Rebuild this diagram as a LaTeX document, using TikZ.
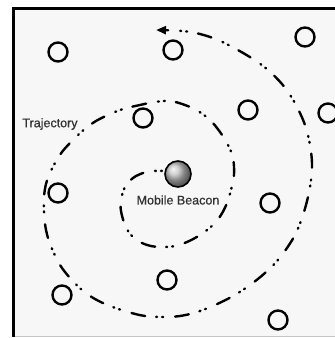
\documentclass[tikz,border=0pt]{standalone}
\usepackage{fontspec}
\setmainfont{Liberation Sans}
\newfontfamily\lblfont[FakeBold=0.8]{Liberation Sans}
\usepackage{tikz}
\usetikzlibrary{arrows.meta, shapes}

\begin{document}
\begin{tikzpicture}[
      x=1pt, y=-1pt,
      sensor/.style={circle, draw, line width=2.4pt, minimum size=19pt, inner sep=0pt},
      beacon/.style={circle, draw, line width=1.6pt, minimum size=26pt, inner sep=0pt, shading=ball, ball color=gray!50},
      lbl/.style={font=\lblfont\fontsize{12.5}{14}\selectfont, text=black!80, inner sep=0pt},
      traj/.style={line width=2.4pt, line cap=round,
        dash pattern=on 14pt off 11pt on 1pt off 5pt on 1pt off 12pt, dash phase=22pt}
    ]
      \useasboundingbox (0,0) rectangle (335,338);
      \fill[gray!6] (13,8) rectangle (350,336);
      \draw[gray!45, line width=1pt] (13,336) -- (350,336);
      \draw[line width=3pt] (13,337) -- (13,8) -- (350,8);

      \node[sensor] (s1) at (58,52) {};
      \node[sensor] (s2) at (173,50) {};
      \node[sensor] (s3) at (305,37) {};
      \node[sensor] (s4) at (143,118) {};
      \node[sensor] (s5) at (248,110) {};
      \node[sensor] (s6) at (328,113) {};
      \node[sensor] (s7) at (58,193) {};
      \node[sensor] (s8) at (270,203) {};
      \node[sensor] (s9) at (167,280) {};
      \node[sensor] (s10) at (62,295) {};
      \node[sensor] (s11) at (278,320) {};

      \node[beacon] (mb) at (178,174) {};
      \node[lbl] (mblabel) at (178,200) {Mobile Beacon};
      \node[lbl] (trlabel) at (50,124) {Trajectory};

      \draw[traj, -{Triangle[length=10pt, width=8pt]}] plot[smooth, tension=0.6] coordinates {
        (165,171) (152,171) (143,173) (133,178) (125,187) (121,200) (121,211)
        (125,225) (131,235) (140,242) (151,246) (163,247) (175,246) (187,242)
        (200,235) (213,225) (221,215) (227,203) (231,190) (234,175) (233,158)
        (228,145) (220,132) (210,120) (198,111) (185,105) (170,101) (155,102)
        (140,105) (123,109) (108,115) (96,121) (86,128) (78,135) (70,143)
        (62,152) (55,163) (50,173) (46,184) (44,197) (44,211) (45,224) (48,238)
        (53,251) (60,265) (70,278) (82,290) (95,299) (110,306) (128,312)
        (145,316) (163,317) (180,316) (197,312) (215,305) (233,296) (250,285)
        (265,273) (277,261) (287,248) (296,233) (303,215) (308,197) (311,180)
        (312,163) (310,145) (306,128) (300,113) (292,98) (282,84) (268,70)
        (253,59) (236,49) (218,40) (200,34) (182,31) (156,30)};
    \end{tikzpicture}
\end{document}
